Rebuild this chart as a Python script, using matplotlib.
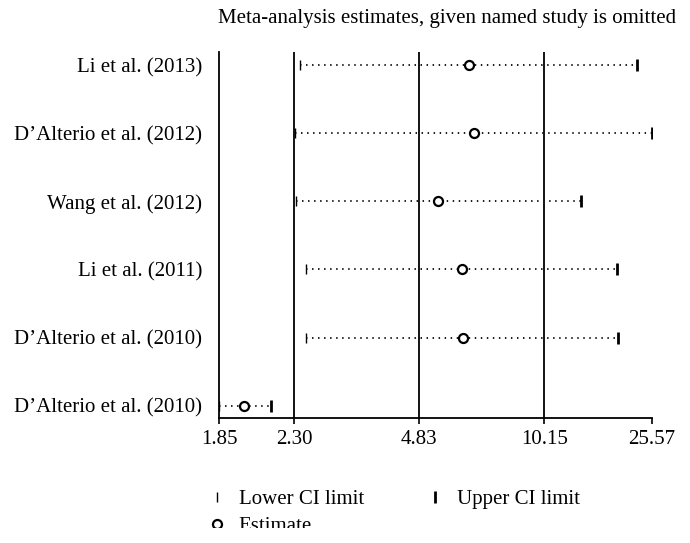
import numpy as np
import matplotlib
matplotlib.use("Agg")
import matplotlib.pyplot as plt
from matplotlib.patches import Rectangle
from matplotlib.lines import Line2D
from matplotlib.ticker import FixedLocator, NullLocator, FixedFormatter

# ---- data ----
studies = ["Li et al. (2013)", "D\u2019Alterio et al. (2012)", "Wang et al. (2012)",
           "Li et al. (2011)", "D\u2019Alterio et al. (2010)", "D\u2019Alterio et al. (2010)"]
lower = [2.39, 2.32, 2.33, 2.47, 2.47, 1.85]
estimate = [6.50, 6.67, 5.41, 6.22, 6.25, 1.99]
upper = [22.42, 25.57, 13.89, 18.98, 19.14, 2.15]
tick_values = [1.85, 2.30, 4.83, 10.15, 25.57]
ref_lines = [2.30, 4.83, 10.15]
title = "Meta-analysis estimates, given named study is omitted"

# ---- axis scale: piecewise log between the labelled ticks ----
tick_pos = [0.0, 0.1732, 0.4626, 0.7517, 1.0]
ln_ticks = np.log(tick_values)

def fwd(x):
    x = np.asarray(x, dtype=float)
    return np.interp(np.log(np.maximum(x, 1e-9)), ln_ticks, tick_pos)

def inv(y):
    y = np.asarray(y, dtype=float)
    return np.exp(np.interp(y, tick_pos, ln_ticks))

plt.rcParams['font.family'] = ['Liberation Serif', 'DejaVu Serif']
FS = 15.0

fig = plt.figure(figsize=(6.9, 5.43), dpi=100)
ax = fig.add_axes([219/690, 1-418/543, (652-219)/690, (418-52)/543])
ax.set_xscale('function', functions=(fwd, inv))

ypos = np.arange(1, len(studies) + 1)
for yv, lo, es, up in zip(ypos, lower, estimate, upper):
    ax.plot([lo, up], [yv, yv], color='#1a1a1a', lw=1.4,
            linestyle=(0, (0.75, 2.35)), zorder=2)
ax.plot(lower, ypos, linestyle='none', marker='|', markersize=7,
        mew=1.0, color='black', zorder=3)
ax.plot(upper, ypos, linestyle='none', marker='|', markersize=8,
        mew=2.0, color='black', zorder=3)
ax.plot(estimate, ypos, linestyle='none', marker='o', markersize=6.5,
        mew=1.6, mfc='white', mec='black', zorder=4)

for v in ref_lines:
    ax.axvline(v, color='black', lw=1.3, zorder=1)

ax.set_xlim(tick_values[0], tick_values[-1])
ax.set_ylim(len(studies) + 0.18, 0.81)

ax.xaxis.set_major_locator(FixedLocator(tick_values))
ax.xaxis.set_major_formatter(FixedFormatter(["%.2f" % v for v in tick_values]))
ax.xaxis.set_minor_locator(NullLocator())
ax.set_yticks(ypos)
ax.set_yticklabels(studies)
ax.tick_params(axis='x', direction='out', length=4.3, width=1.2,
               labelsize=FS, pad=4.5)
ax.tick_params(axis='y', length=0, labelsize=FS, pad=12)
for s in ['top', 'right']:
    ax.spines[s].set_visible(False)
for s in ['left', 'bottom']:
    ax.spines[s].set_linewidth(1.3)

fig.text(676/690, 1-23/543, title, ha='right', va='baseline', fontsize=FS)

handles = [
    Line2D([], [], linestyle='none', marker='|', markersize=7, mew=1.0, color='black'),
    Line2D([], [], linestyle='none', marker='o', markersize=6.5, mew=1.6,
           mfc='white', mec='black'),
    Line2D([], [], linestyle='none', marker='|', markersize=8, mew=2.0, color='black'),
]
labels = ["Lower CI limit", "Estimate", "Upper CI limit"]
fig.legend(handles, labels, ncol=2, loc='upper left',
           bbox_to_anchor=(198/690, 1-479/543), frameon=False, fontsize=FS,
           handlelength=0.8, handletextpad=0.65, columnspacing=3.0,
           labelspacing=0.36, borderpad=0)

fig.patches.append(Rectangle((0, 0), 1, 15/543, transform=fig.transFigure,
                             facecolor='white', edgecolor='none', zorder=100))

fig.savefig("out.png", dpi=100)
